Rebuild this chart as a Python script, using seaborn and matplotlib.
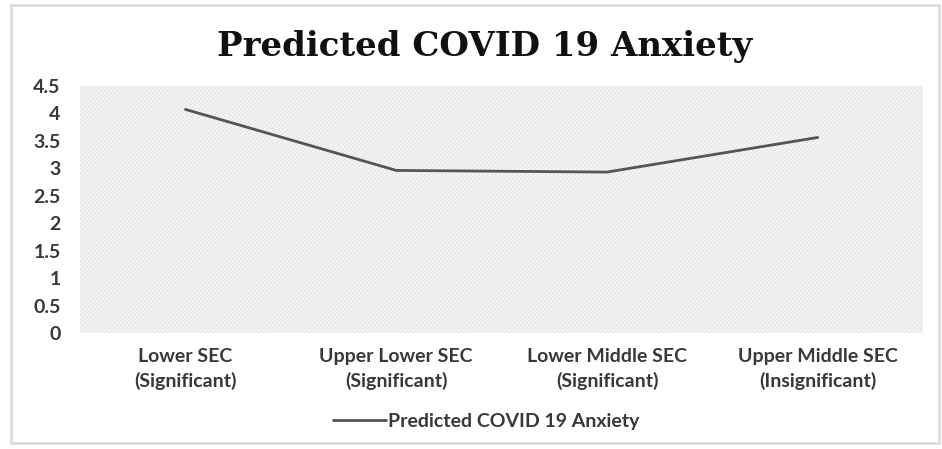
import matplotlib
matplotlib.use("Agg")
import matplotlib.pyplot as plt
from matplotlib.patches import Rectangle
import seaborn as sns
import pandas as pd

categories = [
    "Lower SEC\n(Significant)",
    "Upper Lower SEC\n(Significant)",
    "Lower Middle SEC\n(Significant)",
    "Upper Middle SEC\n(Insignificant)",
]
anxiety = [4.07, 2.96, 2.93, 3.56]
y_ticks = [0, 0.5, 1, 1.5, 2, 2.5, 3, 3.5, 4, 4.5]
y_tick_labels = ["0", "0.5", "1", "1.5", "2", "2.5", "3", "3.5", "4", "4.5"]
series_name = "Predicted COVID 19 Anxiety"

df = pd.DataFrame({"SEC": categories, "value": anxiety})

sns.set_theme(style="white")
plt.rcParams["font.family"] = ["Lato", "DejaVu Sans"]

fig = plt.figure(figsize=(9.42, 4.49), dpi=100)
ax = fig.add_axes([0.085, 0.258, 0.895, 0.551])

# hatched plot-area background
ax.set_facecolor("#f7f7f7")
bg = Rectangle((0, 0), 1, 1, transform=ax.transAxes, facecolor="none",
               edgecolor="#e6e6e6", hatch="////////", linewidth=0, zorder=0)
ax.add_patch(bg)

sns.lineplot(data=df, x="SEC", y="value", ax=ax, sort=False,
             color="#555555", linewidth=2.0, label=series_name, zorder=3)

ax.set_xlim(-0.5, len(categories) - 0.5)
ax.set_ylim(0, 4.5)
ax.set_yticks(y_ticks)
ax.set_yticklabels(y_tick_labels)
ax.set_xlabel("")
ax.set_ylabel("")
for s in ax.spines.values():
    s.set_visible(False)
ax.tick_params(axis="both", length=0, labelsize=14, labelcolor="#383838")
ax.tick_params(axis="y", pad=14)
ax.tick_params(axis="x", pad=11)
for lab in ax.get_xticklabels() + ax.get_yticklabels():
    lab.set_fontweight("bold")
for lab in ax.get_xticklabels():
    lab.set_linespacing(1.4)

fig.text(0.514, 0.897, "Predicted COVID 19 Anxiety", ha="center", va="center",
         fontsize=24.5, fontweight="bold", family="DejaVu Serif", color="#111111")

leg = ax.legend(loc="center", bbox_to_anchor=(0.482, -0.358), frameon=False,
                prop={"weight": "bold", "size": 14}, handlelength=2.7,
                handletextpad=0.15)
for t in leg.get_texts():
    t.set_color("#383838")

# outer chart border
fig.add_artist(Rectangle((0.012, 0.013), 0.985, 0.975, transform=fig.transFigure,
                         facecolor="none", edgecolor="#d9d9d9", linewidth=1.8))

fig.savefig("out.png", dpi=100, facecolor="white")
